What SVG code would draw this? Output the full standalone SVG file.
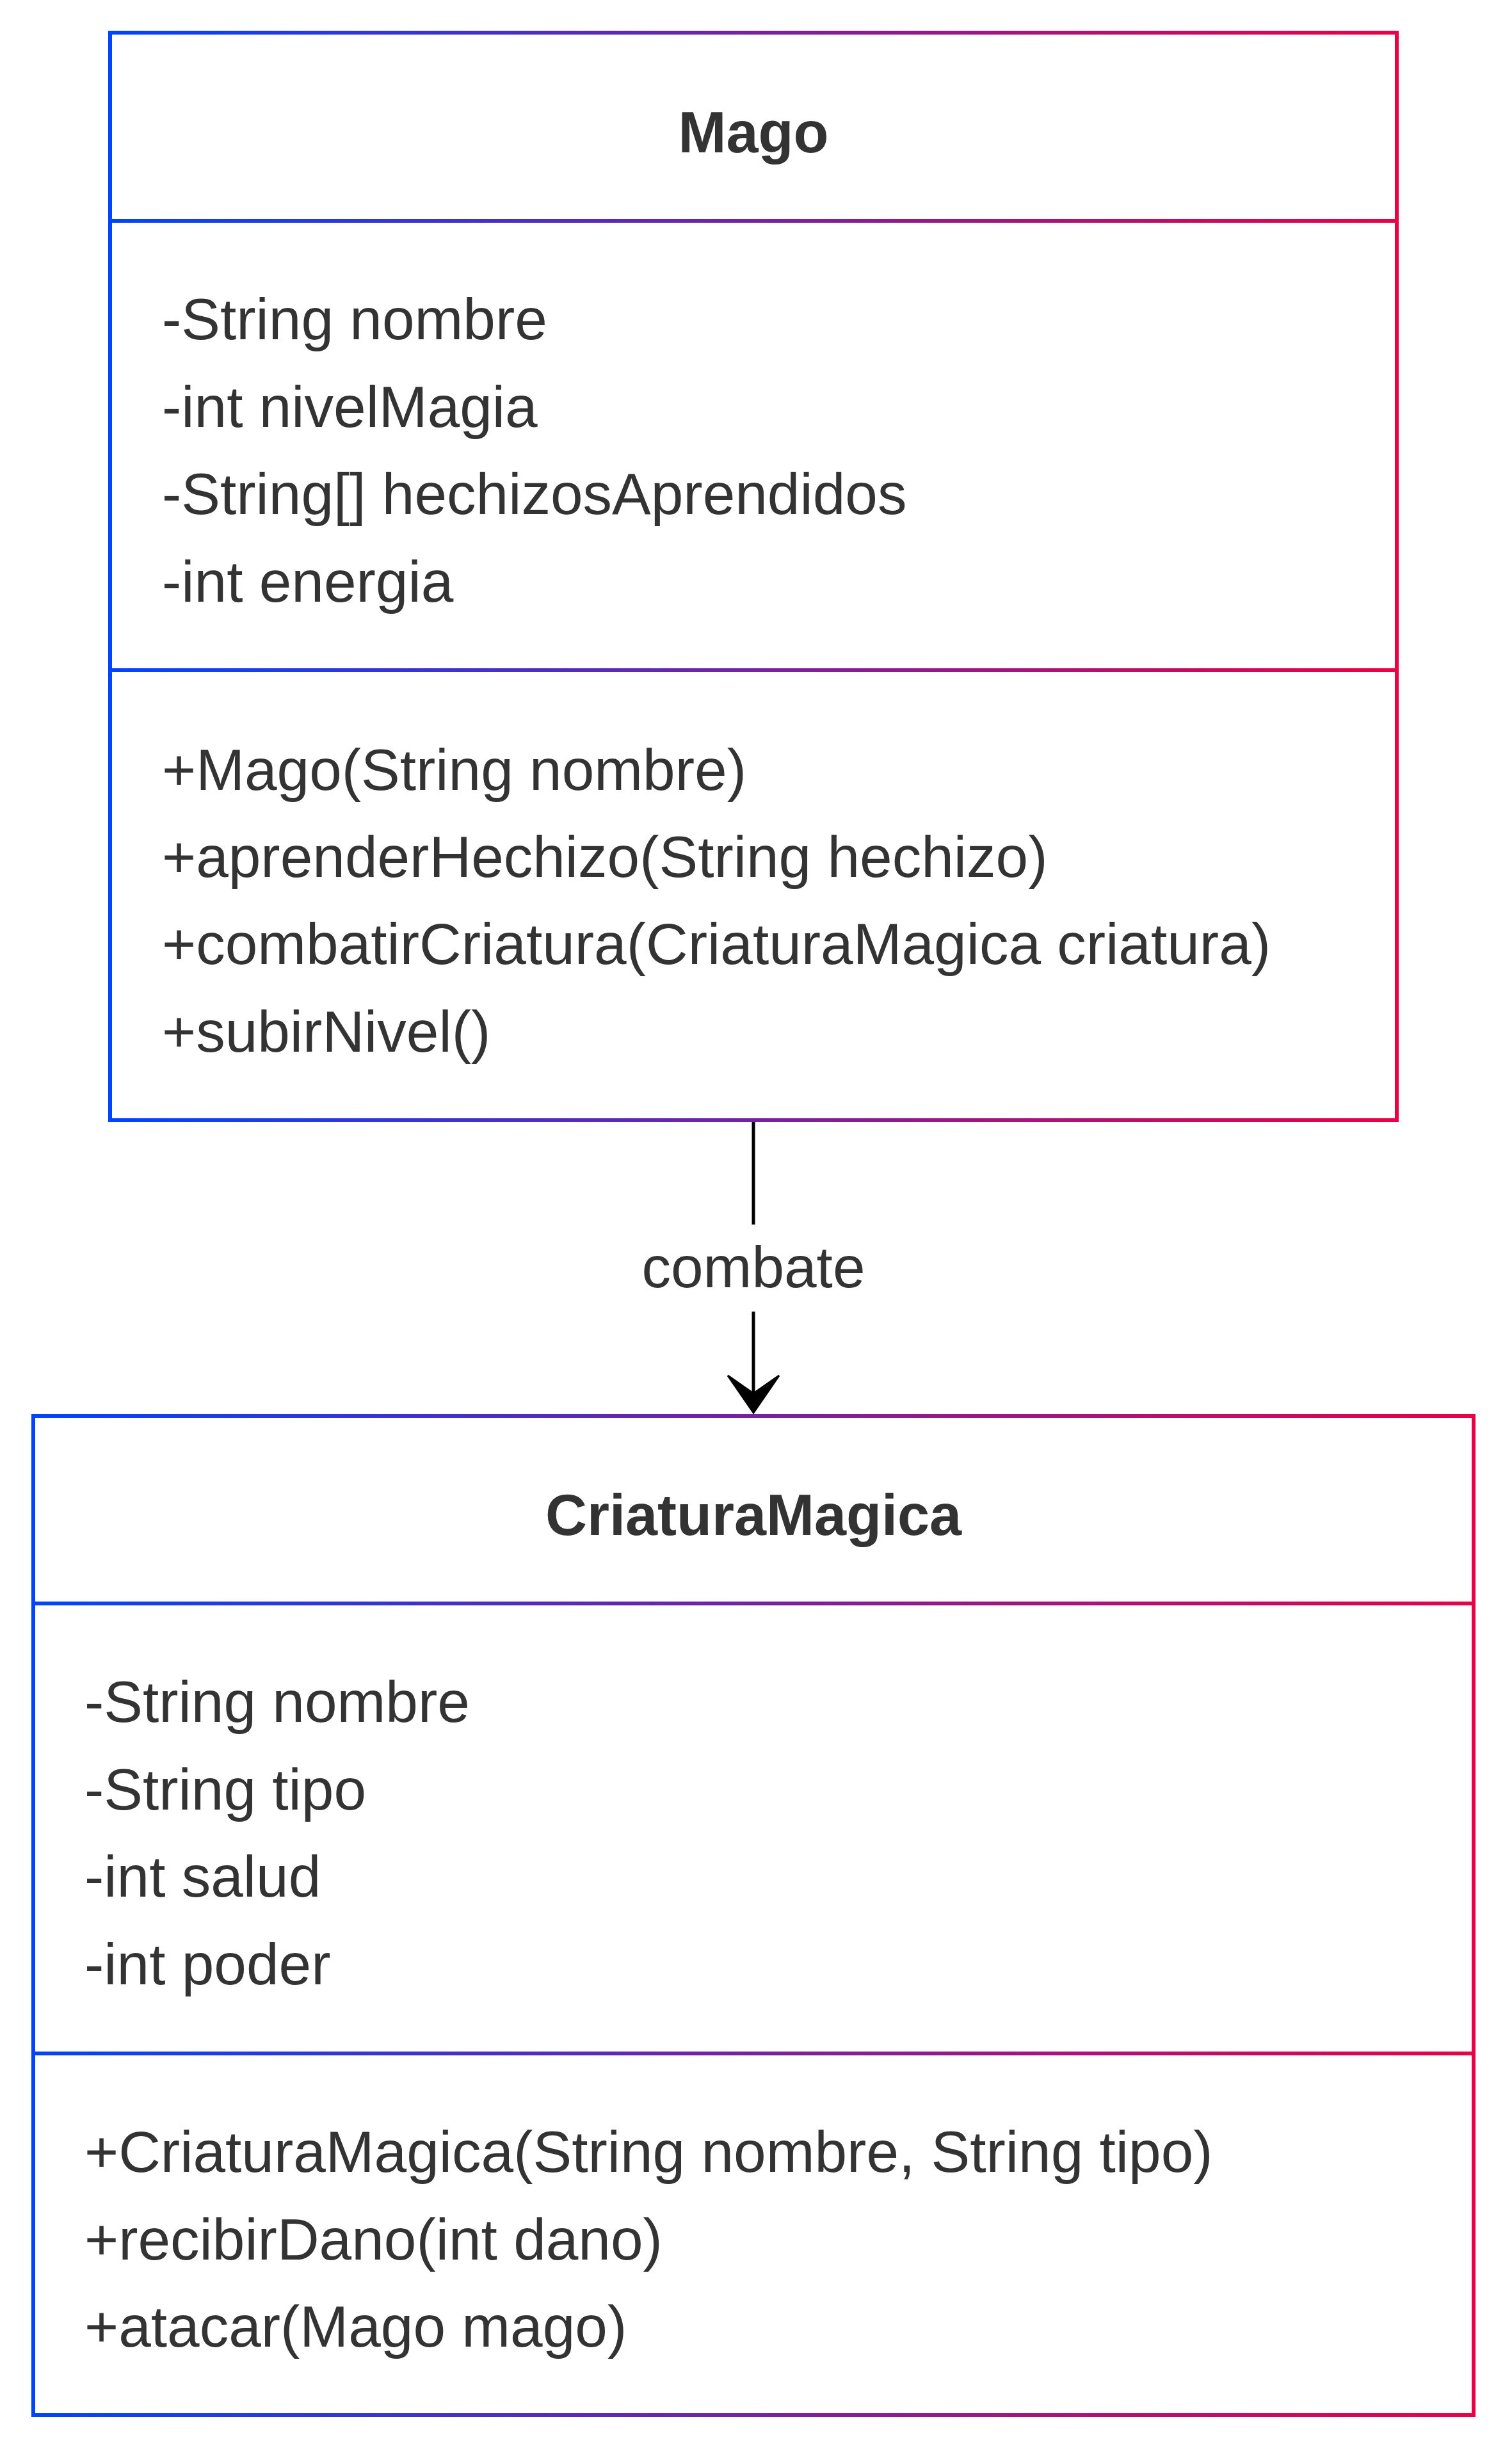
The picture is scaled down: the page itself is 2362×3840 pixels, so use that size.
<svg xmlns="http://www.w3.org/2000/svg" width="2362" height="3840" viewBox="0 0 2362 3840">
  <defs>
    <linearGradient id="gMago" gradientUnits="userSpaceOnUse" x1="172" y1="0" x2="2182" y2="0">
      <stop offset="0" stop-color="#0044ff"/>
      <stop offset="1" stop-color="#eb0045"/>
    </linearGradient>
    <linearGradient id="gCriatura" gradientUnits="userSpaceOnUse" x1="52" y1="0" x2="2302" y2="0">
      <stop offset="0" stop-color="#0044ff"/>
      <stop offset="1" stop-color="#eb0045"/>
    </linearGradient>
  </defs>
  <style>
    text { font-family: "Liberation Sans", Arial, Helvetica, sans-serif; font-size: 91px; fill: #333333; }
    .title { font-weight: bold; text-anchor: middle; font-size: 90px; }
    .label { text-anchor: middle; }
    .edge { stroke: #000000; stroke-width: 5; fill: none; }
    .head { fill: #000000; stroke: #000000; stroke-width: 3; stroke-linejoin: miter; }
  </style>
  <rect x="0" y="0" width="2362" height="3840" fill="#ffffff"/>

  <g id="Mago">
    <rect x="172" y="51" width="2010" height="1699" fill="#ffffff" stroke="url(#gMago)" stroke-width="6"/>
    <line x1="172" y1="345" x2="2182" y2="345" stroke="url(#gMago)" stroke-width="6"/>
    <line x1="172" y1="1047" x2="2182" y2="1047" stroke="url(#gMago)" stroke-width="6"/>
    <text class="title" x="1177" y="238">Mago</text>
    <text x="253" y="530">-String nombre</text>
    <text x="253" y="667">-int nivelMagia</text>
    <text x="253" y="803">-String[] hechizosAprendidos</text>
    <text x="253" y="940">-int energia</text>
    <text x="253" y="1234">+Mago(String nombre)</text>
    <text x="253" y="1370">+aprenderHechizo(String hechizo)</text>
    <text x="253" y="1506">+combatirCriatura(CriaturaMagica criatura)</text>
    <text x="253" y="1643">+subirNivel()</text>
  </g>

  <g id="CriaturaMagica">
    <rect x="52" y="2212" width="2250" height="1561" fill="#ffffff" stroke="url(#gCriatura)" stroke-width="6"/>
    <line x1="52" y1="2505" x2="2302" y2="2505" stroke="url(#gCriatura)" stroke-width="6"/>
    <line x1="52" y1="3208" x2="2302" y2="3208" stroke="url(#gCriatura)" stroke-width="6"/>
    <text class="title" x="1177" y="2398">CriaturaMagica</text>
    <text x="132" y="2690">-String nombre</text>
    <text x="132" y="2827">-String tipo</text>
    <text x="132" y="2963">-int salud</text>
    <text x="132" y="3100">-int poder</text>
    <text x="132" y="3393">+CriaturaMagica(String nombre, String tipo)</text>
    <text x="132" y="3530">+recibirDano(int dano)</text>
    <text x="132" y="3666">+atacar(Mago mago)</text>
  </g>

  <g id="connectors">
    <path class="edge" d="M1177,1753 V1913 M1177,2049 V2180"/>
    <polygon class="head" points="1177,2207 1137,2149 1177,2177 1217,2149"/>
    <text class="label" x="1177" y="2011">combate</text>
  </g>
</svg>
